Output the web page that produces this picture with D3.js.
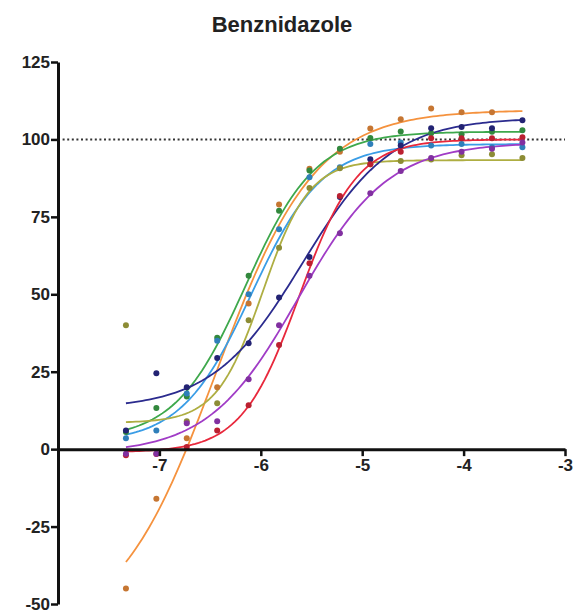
<!DOCTYPE html>
<html>
<head>
<meta charset="utf-8">
<script src="https://cdn.jsdelivr.net/npm/d3@7"></script>
<style>
  body { margin:0; background:#fff; }
  svg text { font-family: "Liberation Sans", Arial, sans-serif; font-weight: bold; }
</style>
</head>
<body>
<div id="chart"></div>
<script>
// log[M] concentrations (2-fold dilutions)
const logConc = [-7.33, -7.03, -6.73, -6.43, -6.12, -5.82, -5.52, -5.22, -4.92, -4.62, -4.32, -4.02, -3.72, -3.42];

const seriesNames  = ["orange", "green", "lightBlue", "olive", "navy", "red", "purple"];
const seriesColors = ["#f5923e", "#3ea84c", "#3a9de6", "#aeae42", "#2b2b8e", "#e8283c", "#a03cc6"];

// measured points, one array per series (null = not visible)
const orangePts    = [-45, -16, 3.5, 20, 47, 79, 90.5, 96, 103.5, 106.5, 110, 108.8, 108.8, null];
const greenPts     = [5.5, 13.3, 17, 36, 56, 77, 90, 97, 100.5, 102.6, 102, 101.7, 102.5, 103];
const lightBluePts = [3.5, 6, 18, 35, 50, 71, 87.8, 91, 98.5, 99, 98, 98.5, 97.5, 97.5];
const olivePts     = [40, null, 9, 14.8, 41.6, 65, 84.3, 90.7, 92, 93, 93.5, 94.9, 95.2, 94];
const navyPts      = [6, 24.5, 20, 29.4, 34.2, 49, 62, 81.4, 93.6, 98, 103.6, 104, 103.6, 106.2];
const redPts       = [-2, -1.6, 0.7, 6, 14.2, 33.6, 60, 81.7, 92, 96, 100.4, 100.4, 100.4, 100.7];
const purplePts    = [-1.5, -1.5, 8.4, 9, 22.6, 40, 56, 69.7, 82.6, 89.8, 94, 96, 97, 99];
const allPts = [orangePts, greenPts, lightBluePts, olivePts, navyPts, redPts, purplePts];

// fitted sigmoid (4PL) parameters
const fitBottom  = [-60, 3, 2, 8.5, 13, -1, -1.5];
const fitTop     = [109.5, 102.5, 98.5, 93.3, 107, 100, 99];
const fitLogEC50 = [-6.44, -6.15, -6.09, -5.98, -5.59, -5.62, -5.63];
const fitHill    = [0.89, 1.25, 1.25, 1.9, 0.98, 1.52, 0.98];

const yTicks = [-50, -25, 0, 25, 50, 75, 100, 125];
const xTicks = [-7, -6, -5, -4, -3];

const W = 576, H = 613;
const svg = d3.select("#chart").append("svg").attr("width", W).attr("height", H);

const x = d3.scaleLinear().domain([-8, -3]).range([58, 565]);
const y = d3.scaleLinear().domain([-50, 125]).range([604, 62]);

// title
svg.append("text").attr("x", 282).attr("y", 32).attr("text-anchor", "middle")
  .style("font-size", "22px").attr("fill", "#222").text("Benznidazole");

// dotted 100% line
svg.append("line")
  .attr("x1", x(-8)).attr("x2", x(-3)).attr("y1", y(100)).attr("y2", y(100))
  .attr("stroke", "#333").attr("stroke-width", 2).attr("stroke-dasharray", "2,2.6");

// curves
const curveX = d3.range(0, 121).map(i => logConc[0] + (logConc[logConc.length-1] - logConc[0]) * i / 120);
const line = d3.line().x(d => x(d[0])).y(d => y(d[1]));
seriesNames.forEach((name, i) => {
  const pts = curveX.map(cx => [cx, fitBottom[i] + (fitTop[i] - fitBottom[i]) / (1 + Math.pow(10, (fitLogEC50[i] - cx) * fitHill[i]))]);
  svg.append("path").datum(pts)
    .attr("d", line).attr("fill", "none")
    .attr("stroke", seriesColors[i]).attr("stroke-width", 1.8);
});

// points
seriesNames.forEach((name, i) => {
  const data = logConc.map((c, j) => [c, allPts[i][j]]).filter(d => d[1] != null);
  svg.append("g").selectAll("circle").data(data).enter().append("circle")
    .attr("cx", d => x(d[0])).attr("cy", d => y(d[1])).attr("r", 3)
    .attr("fill", d3.color(seriesColors[i]).darker(0.6));
});

// axes
const gy = svg.append("g").attr("transform", `translate(${x(-8)},0)`)
  .call(d3.axisLeft(y).tickValues(yTicks).tickFormat(d => String(d)).tickSize(7).tickSizeOuter(0).tickPadding(1));
const gx = svg.append("g").attr("transform", `translate(0,${y(0)})`)
  .call(d3.axisBottom(x).tickValues(xTicks).tickFormat(d => String(d)).tickSize(7).tickSizeOuter(0).tickPadding(3));

[gx, gy].forEach(g => {
  g.select(".domain").attr("stroke", "#111").attr("stroke-width", 3);
  g.selectAll(".tick line").attr("stroke", "#111").attr("stroke-width", 2.5);
  g.selectAll(".tick text").attr("fill", "#222").style("font-size", "17px").style("font-weight", "bold")
    .style("font-family", "'Liberation Sans', Arial, sans-serif");
});
</script>
</body>
</html>
